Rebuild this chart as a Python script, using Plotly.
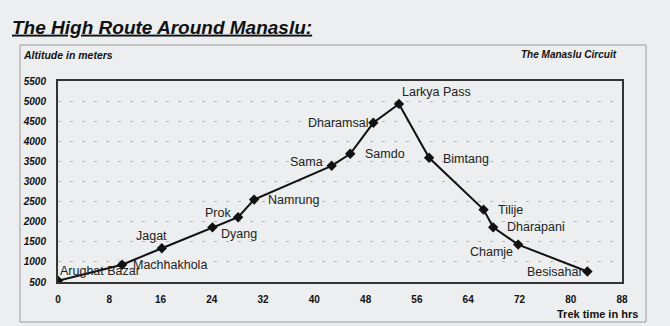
import plotly.graph_objects as go

# ---- data ----
places = ["Arughat Bazar", "Machhakhola", "Jagat", "Dyang", "Prok", "Namrung",
          "Sama", "Samdo", "Dharamsal", "Larkya Pass", "Bimtang", "Tilije",
          "Dharapani", "Chamje", "Besisahar"]
hours = [0, 10, 16.2, 24.1, 28.1, 30.6, 42.7, 45.6, 49.2, 53.2, 57.9, 66.4, 67.9, 71.8, 82.6]
altitude = [530, 930, 1340, 1860, 2110, 2550, 3390, 3690, 4460, 4930, 3590, 2300, 1860, 1430, 760]
x_ticks = [0, 8, 16, 24, 32, 40, 48, 56, 64, 72, 80, 88]
y_ticks = [500, 1000, 1500, 2000, 2500, 3000, 3500, 4000, 4500, 5000, 5500]

# label placement (anchor, xshift, yshift) in pixels
label_pos = [("left", 0, 10), ("left", 9, 0), ("center", -10, 12), ("left", 7, -7),
             ("right", -5, 4), ("left", 12, 0), ("right", -7, 4), ("left", 13, 0),
             ("right", -3, 0), ("left", 1, 12), ("left", 12, -1), ("left", 12, 0),
             ("left", 12, 0), ("right", -3, -7), ("right", -2, 0)]

FONT = "Arial, Liberation Sans, sans-serif"
BG = "#eceef0"

fig = go.Figure()
fig.add_trace(go.Scatter(
    x=hours, y=altitude, mode="lines+markers",
    line=dict(color="#111", width=2),
    marker=dict(symbol="diamond", size=8, color="#111"),
    hoverinfo="skip", showlegend=False,
))

annotations = []
for name, hx, alt, (anc, xs, ys) in zip(places, hours, altitude, label_pos):
    annotations.append(dict(x=hx, y=alt, xref="x", yref="y", text=name,
                            showarrow=False, xanchor=anc, yanchor="middle",
                            xshift=xs, yshift=ys,
                            font=dict(family=FONT, size=12.5, color="#222")))

annotations += [
    dict(x=-0.0674 + 0.002, y=1.13, xref="paper", yref="paper", xanchor="left", yanchor="middle",
         text="Altitude in meters", showarrow=False,
         font=dict(family=FONT, size=10.5, color="#111", weight="bold", style="italic")),
    dict(x=0.995, y=1.13, xref="paper", yref="paper", xanchor="right", yanchor="middle",
         text="The Manaslu Circuit", showarrow=False,
         font=dict(family=FONT, size=10, color="#111", weight="bold", style="italic")),
    dict(x=1.032, y=-0.158, xref="paper", yref="paper", xanchor="right", yanchor="middle",
         text="Trek time in hrs", showarrow=False,
         font=dict(family=FONT, size=11, color="#111", weight="bold")),
]

fig.update_layout(
    width=670, height=326,
    margin=dict(l=58, r=48, t=81, b=44),
    paper_bgcolor=BG, plot_bgcolor=BG,
    title=dict(text="<u>The High Route Around Manaslu:</u>", x=12 / 670, xanchor="left",
               y=1 - 27 / 326, yanchor="middle",
               font=dict(family=FONT, size=19, color="#111", weight="bold", style="italic")),
    annotations=annotations,
    shapes=[dict(type="rect", xref="paper", yref="paper",
                 x0=-0.0674, x1=1.0426, y0=-0.199, y1=1.179,
                 line=dict(color="#9a9a9a", width=1), layer="below")],
    xaxis=dict(range=[0, 88], tickvals=x_ticks, showgrid=False, zeroline=False,
               showline=True, linecolor="#333", linewidth=2, mirror=True,
               ticks="", ticklabelstandoff=7,
               tickfont=dict(family=FONT, size=10, color="#111", weight="bold")),
    yaxis=dict(range=[500, 5500], tickvals=y_ticks, showgrid=True, gridcolor="#b4b4b4",
               griddash="3px,9px", gridwidth=1, zeroline=False,
               showline=True, linecolor="#333", linewidth=2, mirror=True,
               ticks="", ticklabelstandoff=8,
               tickfont=dict(family=FONT, size=10, color="#111", weight="bold", style="italic")),
)

fig.write_html("out.html")
